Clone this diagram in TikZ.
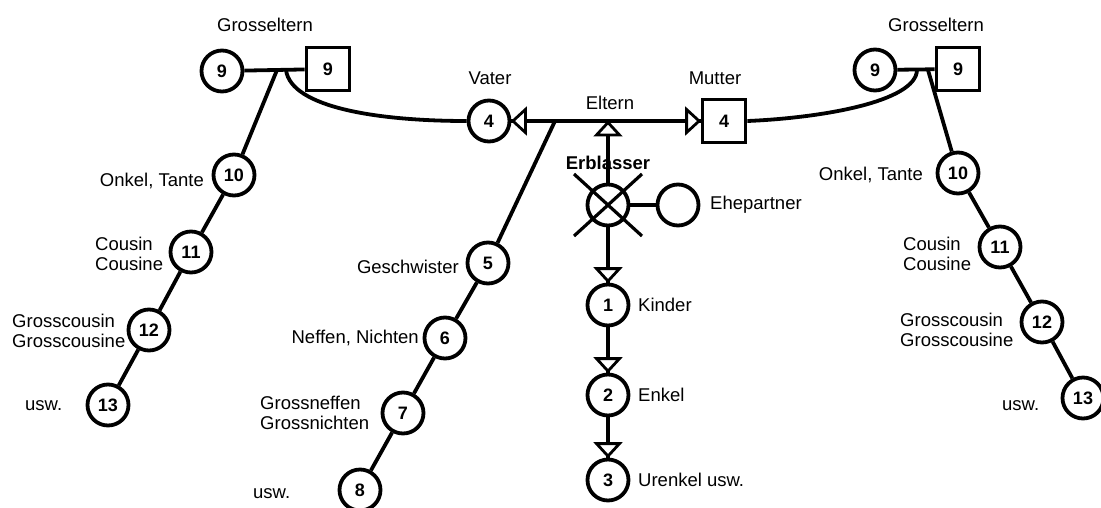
\documentclass[tikz,border=0pt]{standalone}
\usepackage{fontspec}
\setmainfont{Liberation Sans}
\usetikzlibrary{calc}
\begin{document}
\begin{tikzpicture}[x=1pt,y=-1pt,
  every node/.style={font=\fontsize{18.5}{20}\selectfont},
  pers/.style={circle,draw,line width=3.8pt,minimum size=41pt,inner sep=0pt,font=\fontsize{18}{20}\selectfont\bfseries},
  mann/.style={rectangle,draw,line width=3.8pt,minimum size=43pt,inner sep=0pt,font=\fontsize{18}{20}\selectfont\bfseries},
  link/.style={line width=3.8pt},
  pics/otri/.style={code={\draw[line width=2.8pt,fill=white,line join=miter] (-1.5,0) -- (-14,-11.5) -- (-14,11.5) -- cycle;}},
  lab/.style={align=left,inner sep=0pt},
  labr/.style={align=left,inner sep=0pt,anchor=east},
  labl/.style={align=left,inner sep=0pt,anchor=west}]
\useasboundingbox (0,0) rectangle (1101,507);
% grandparents left
\node[pers] (gl9c) at (222,71) {9};
\node[mann] (gl9s) at (328,69) {9};
\node[lab] (glt) at (265,25) {Grosseltern};
\coordinate (glb) at (277,70);
\coordinate (glc) at (286,70);
% grandparents right
\node[pers] (gr9c) at (875,70) {9};
\node[mann] (gr9s) at (958,69) {9};
\node[lab] (grt) at (936,25) {Grosseltern};
\coordinate (grb) at (928,70);
\coordinate (grc) at (917,70);
% parents
\node[pers] (vater) at (489,121) {4};
\node[mann] (mutter) at (724,121) {4};
\node[lab] (vt) at (490,78) {Vater};
\node[lab] (mt) at (715,78) {Mutter};
\node[lab] (et) at (610,103) {Eltern};
\coordinate (sib) at (555,121);
\coordinate (eup) at (608,121);
% Erblasser
\node[pers] (erb) at (608,205) {};
\node[lab,font=\fontsize{18.5}{20}\selectfont\bfseries] (erbt) at (608,163) {Erblasser};
\node[pers] (ehe) at (678,205) {};
\node[labl] (ehet) at (710,205) {Ehepartner};
% descendants
\node[pers] (k1) at (608,305) {1};
\node[pers] (k2) at (608,395) {2};
\node[pers] (k3) at (608,480) {3};
\node[labl] (k1t) at (638,305) {Kinder};
\node[labl] (k2t) at (638,395) {Enkel};
\node[labl] (k3t) at (638,480) {Urenkel usw.};
% siblings
\node[pers] (s5) at (488,263) {5};
\node[pers] (s6) at (445,338) {6};
\node[pers] (s7) at (403,413) {7};
\node[pers] (s8) at (360,490) {8};
\node[labr] (s5t) at (459,267) {Geschwister};
\node[labr] (s6t) at (419,338) {Neffen, Nichten};
\node[labl] (s7t) at (260,413) {Grossneffen\\Grossnichten};
\node[labl] (s8t) at (253,494) {usw.};
% left uncles
\node[pers] (l10) at (234,175) {10};
\node[pers] (l11) at (191,252) {11};
\node[pers] (l12) at (149,330) {12};
\node[pers] (l13) at (108,405) {13};
\node[labr] (l10t) at (204,181) {Onkel, Tante};
\node[labl] (l11t) at (95,254) {Cousin\\Cousine};
\node[labl] (l12t) at (12,331) {Grosscousin\\Grosscousine};
\node[labl] (l13t) at (25,406) {usw.};
% right uncles
\node[pers] (r10) at (958,173) {10};
\node[pers] (r11) at (1000,247) {11};
\node[pers] (r12) at (1042,322) {12};
\node[pers] (r13) at (1083,398) {13};
\node[labr] (r10t) at (923,175) {Onkel, Tante};
\node[labl] (r11t) at (903,254) {Cousin\\Cousine};
\node[labl] (r12t) at (900,330) {Grosscousin\\Grosscousine};
\node[labl] (r13t) at (1002,406) {usw.};
% connectors
\draw[link] (gl9c) -- (gl9s);
\draw[link] (gr9c) -- (gr9s);
\draw[link] (glc) .. controls (291,108) and (380,121) .. (vater.west);
\draw[link] (mutter.east) .. controls (820,118) and (916,102) .. (grc);
\draw[link] (glb) -- (l10) -- (l11) -- (l12) -- (l13);
\draw[link] (grb) -- (r10) -- (r11) -- (r12) -- (r13);
\draw[link] (vater) -- (mutter);
\draw[link] (sib) -- (s5) -- (s6) -- (s7) -- (s8);
\draw[link] (erb) -- (eup);
\draw[link] (erb) -- (ehe);
\draw[link] (erb) -- (k1);
\draw[link] (k1) -- (k2);
\draw[link] (k2) -- (k3);
% open triangle heads
\pic[rotate=180] at (vater.east) {otri};
\pic at (mutter.west) {otri};
\pic[rotate=90] at (eup) {otri};
\pic[rotate=-90] at (k1.north) {otri};
\pic[rotate=-90] at (k2.north) {otri};
\pic[rotate=-90] at (k3.north) {otri};
\draw[line width=3.2pt] ([shift={(-34,-31)}]erb.center) -- ([shift={(34,31)}]erb.center);
\draw[line width=3.2pt] ([shift={(34,-31)}]erb.center) -- ([shift={(-34,31)}]erb.center);
\end{tikzpicture}
\end{document}
